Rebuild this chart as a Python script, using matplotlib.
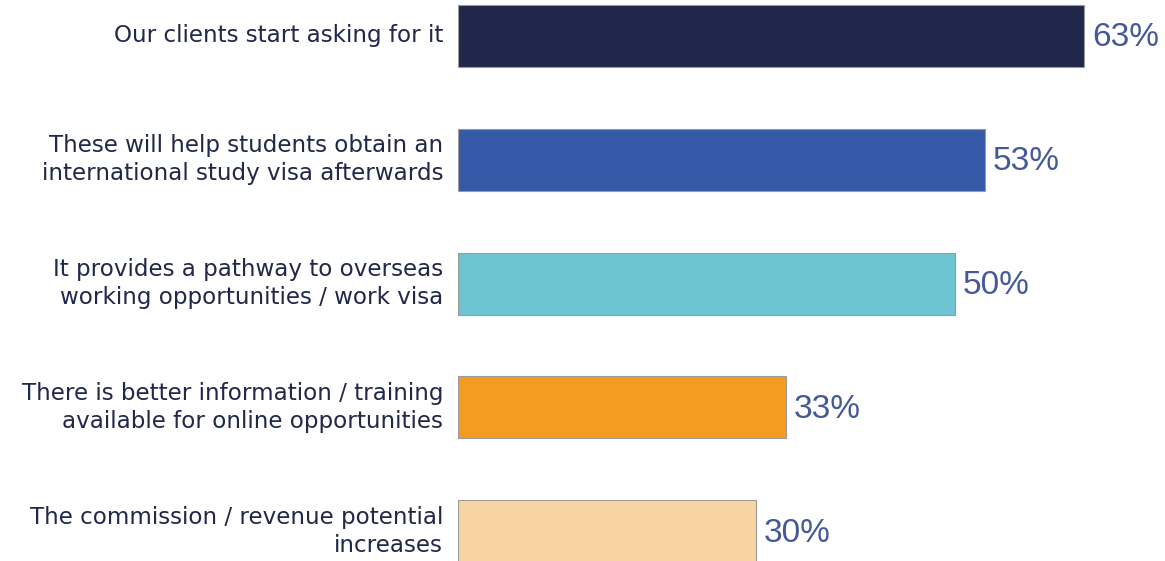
import matplotlib
matplotlib.use("Agg")
import matplotlib.pyplot as plt

# reasons, top to bottom
labels = [
    "Our clients start asking for it",
    "These will help students obtain an\ninternational study visa afterwards",
    "It provides a pathway to overseas\nworking opportunities / work visa",
    "There is better information / training\navailable for online opportunities",
    "The commission / revenue potential\nincreases",
]
values = [63, 53, 50, 33, 30]
colors = ["#21264b", "#3559a6", "#6cc4d0", "#f39c21", "#f9d4a3"]

W, H = 1165, 561
fig = plt.figure(figsize=(W / 100, H / 100), dpi=100)
ax = fig.add_axes([458 / W, 0, (W - 458) / W, 1])

ypos = list(range(len(values)))
ax.barh(ypos, values, height=0.5, color=colors, edgecolor="#9a9a9a", linewidth=0.8)

ax.set_xlim(0, (W - 458) / 9.94)
ax.set_ylim((H - 35.5) / 124, -35.5 / 124)

for y, v in zip(ypos, values):
    ax.text(v + 0.8, y + 0.02, f"{v}%", va="center", ha="left", fontsize=24,
            family="Liberation Sans", color="#44599a")

for y, lab in zip(ypos, labels):
    ax.text(-1.5, y, lab, va="center", ha="right", fontsize=16.6,
            family="DejaVu Sans", color="#22284a", linespacing=1.3)

ax.set_xticks([])
ax.set_yticks([])
for s in ax.spines.values():
    s.set_visible(False)

fig.savefig("out.png", dpi=100)
